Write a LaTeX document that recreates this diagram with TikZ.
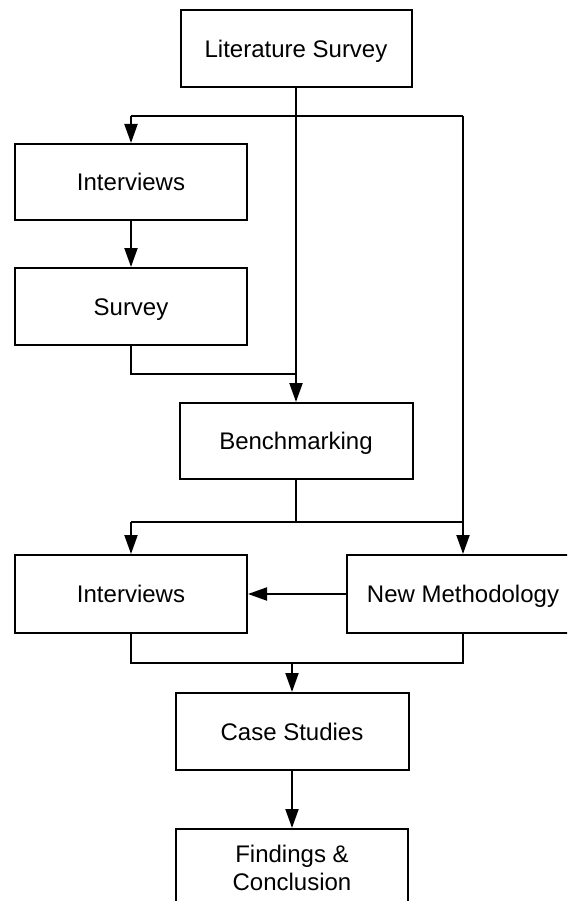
\documentclass[tikz,border=0pt]{standalone}
\usepackage{fontspec}
\setmainfont{Liberation Sans}
\usetikzlibrary{arrows.meta}
\begin{document}
\begin{tikzpicture}[x=1pt,y=-1pt,
  box/.style={draw=black, line width=2pt, fill=white, inner sep=0pt,
    minimum width=232pt, align=center, text height=17.2pt, text depth=0pt,
    font=\fontsize{24}{28}\selectfont},
  link/.style={line width=2pt},
  arr/.style={link, -{Triangle[length=19pt,width=13pt]}}]
% page frame
\useasboundingbox (0,0) rectangle (567,901);
\clip (0,0) rectangle (567,901);

% process boxes
\node[box, minimum width=231pt, minimum height=77pt] (lit)   at (296,48.5) {Literature Survey};
\node[box, minimum height=76pt] (int1)  at (131,182)   {Interviews};
\node[box, minimum height=77pt] (surv)  at (131,306.5) {Survey};
\node[box, minimum width=233pt, minimum height=76pt] (bench) at (296,441) {Benchmarking};
\node[box, minimum height=78pt] (int2)  at (131,594)   {Interviews};
\node[box, minimum height=78pt] (nm)    at (463,594)   {New Methodology};
\node[box, minimum width=233pt, minimum height=77pt] (case)  at (292,731.5) {Case Studies};
% last box runs past the bottom edge of the page
\node[box, minimum height=130pt, anchor=north] (find) at (292,828) {};
\node[font=\fontsize{24}{28}\selectfont, align=center, anchor=north] (findtxt) at (292,842) {Findings \&\\Conclusion};

% junction points
\coordinate (bl) at (131,116);
\coordinate (br) at (463,116);
\coordinate (sj) at (296,374);
\coordinate (bj) at (296,522);
\coordinate (ml) at (131,522);
\coordinate (mr) at (463,522);
\coordinate (jr) at (463,663);
\coordinate (jc) at (292,663);

% connectors
\draw[arr] (lit.south) -- (bench.north);
\draw[link] (bl) -- (br);
\draw[arr] (bl) -- (int1.north);
\draw[arr] (br) -- (nm.north);
\draw[arr] (int1.south) -- (surv.north);
\draw[link] (surv.south) |- (sj);
\draw[link] (bench.south) -- (bj);
\draw[link] (ml) -- (mr);
\draw[arr] (ml) -- (int2.north);
\draw[arr] (nm.west) -- (int2.east);
\draw[link] (int2.south) |- (jr) -- (nm.south);
\draw[arr] (jc) -- (case.north);
\draw[arr] (case.south) -- (find.north);
\end{tikzpicture}
\end{document}
